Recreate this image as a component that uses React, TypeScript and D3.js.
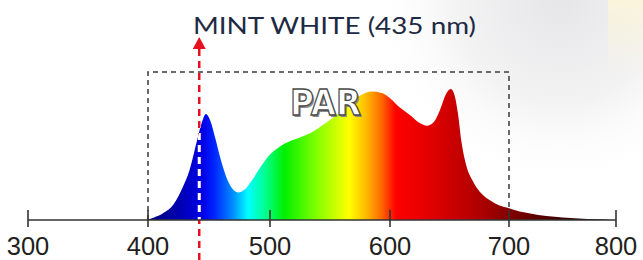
import React from "react";
import * as d3 from "d3";

const W = 643;
const H = 260;

// Axis ticks (nm)
const tickValues = [300, 400, 500, 600, 700, 800];
// pixel positions of the printed ticks (the source axis is not perfectly linear)
const tickPixels = [28, 148, 270, 390, 509, 616];

// Spectrum: wavelength (nm) and relative intensity
const wavelengths = [398, 405, 412, 421, 428, 434, 440, 444, 447.5, 451, 455, 460, 465, 470, 474, 479, 485, 492, 500, 508, 516, 525, 535, 545, 555, 565, 575, 585, 593, 600, 608, 617, 625, 631, 637, 642, 647, 651, 654, 657, 660, 664, 670, 677, 684, 692, 700, 710, 720, 735, 750, 765, 782, 796];
const intensity = [0, 0.02, 0.05, 0.12, 0.24, 0.38, 0.6, 0.74, 0.81, 0.76, 0.63, 0.45, 0.31, 0.23, 0.21, 0.23, 0.3, 0.4, 0.5, 0.56, 0.6, 0.63, 0.67, 0.73, 0.8, 0.88, 0.95, 0.98, 0.97, 0.93, 0.86, 0.8, 0.74, 0.72, 0.75, 0.84, 0.96, 1.0, 0.96, 0.82, 0.6, 0.42, 0.29, 0.2, 0.15, 0.11, 0.09, 0.065, 0.05, 0.03, 0.02, 0.012, 0.005, 0];

// Spectral colour stops
const colorNm = [400, 425, 445, 455, 470, 482, 495, 512, 540, 566, 580, 592, 605, 630, 655, 680, 700, 740, 780, 800];
const colorHex = ["#00007e", "#0000b0", "#0000e8", "#0028ff", "#0090ff", "#00ffff", "#00ff99", "#00f000", "#88ff00", "#ffff00", "#ffbb00", "#ff7000", "#ff0000", "#e60000", "#c80000", "#a80000", "#820000", "#4a0000", "#220000", "#100000"];

const parStart = 400;
const parEnd = 700;
const parTop = 1.13;
const markerNm = 442;

const title = "MINT WHITE (435 nm)";
const parLabel = "PAR";

export default function App() {
  const x = d3.scaleLinear().domain(tickValues).range(tickPixels);
  const y = d3.scaleLinear().domain([0, 1]).range([220, 89]);

  const pts = wavelengths.map((w, i) => [w, intensity[i]] as [number, number]);
  const area = d3
    .area<[number, number]>()
    .x((d) => x(d[0]))
    .y0(y(0))
    .y1((d) => y(d[1]))
    .curve(d3.curveMonotoneX);
  const areaPath = area(pts) || "";

  const x0 = x(tickValues[0]);
  const x1 = x(tickValues[tickValues.length - 1]);
  const gx0 = x(colorNm[0]);
  const gx1 = x(colorNm[colorNm.length - 1]);
  const mx = x(markerNm);

  return (
    <svg width={W} height={H} style={{ position: "absolute", left: 0, top: 0, background: "#fff" }}>
      <defs>
        <linearGradient id="spec" gradientUnits="userSpaceOnUse" x1={gx0} x2={gx1} y1={0} y2={0}>
          {colorNm.map((nm, i) => (
            <stop key={i} offset={(x(nm) - gx0) / (gx1 - gx0)} stopColor={colorHex[i]} />
          ))}
        </linearGradient>
        <radialGradient id="bg" cx={560} cy={0} r={190} gradientUnits="userSpaceOnUse">
          <stop offset="0" stopColor="#e6e6e8" />
          <stop offset="0.55" stopColor="#f3f3f4" />
          <stop offset="1" stopColor="#ffffff" stopOpacity="0" />
        </radialGradient>
        <linearGradient id="yel" x1="0" x2="0" y1="0" y2="1">
          <stop offset="0" stopColor="#faf4dc" />
          <stop offset="1" stopColor="#faf4dc" stopOpacity="0" />
        </linearGradient>
        <clipPath id="areaClip">
          <path d={areaPath} />
        </clipPath>
      </defs>

      {/* faint background picture */}
      <rect x={0} y={0} width={W} height={H} fill="#fff" />
      <rect x={0} y={0} width={W} height={H} fill="url(#bg)" />
      <rect x={608} y={0} width={35} height={75} fill="url(#yel)" />

      {/* PAR box */}
      <path
        d={`M${x(parStart)},${y(0)} V${y(parTop)} H${x(parEnd)} V${y(0)}`}
        fill="none"
        stroke="#3a3a3a"
        strokeWidth={1.5}
        strokeDasharray="5,4"
      />

      {/* spectrum */}
      <path d={areaPath} fill="url(#spec)" />

      {/* marker line */}
      <line x1={mx} x2={mx} y1={49} y2={H} stroke="#e8101e" strokeWidth={2.5} strokeDasharray="7,5" />
      <g clipPath="url(#areaClip)">
        <line x1={mx} x2={mx} y1={49} y2={H} stroke="#ffffff" strokeWidth={3} strokeDasharray="7,5" />
      </g>
      <path d={`M${mx},37 L${mx + 6.5},49 L${mx - 6.5},49 Z`} fill="#e8101e" />

      {/* axis */}
      <line x1={x0} x2={x1} y1={y(0)} y2={y(0)} stroke="#333" strokeWidth={1.6} />
      {tickValues.map((t) => (
        <g key={t}>
          <line x1={x(t)} x2={x(t)} y1={y(0) - 10} y2={y(0) + 7} stroke="#333" strokeWidth={1.6} />
          <text
            x={x(t)}
            y={254.5}
            textAnchor="middle"
            fontFamily="'Liberation Sans', Arial, sans-serif"
            fontSize={25.5}
            fill="#231f20"
          >
            {t}
          </text>
        </g>
      ))}

      {/* title */}
      <text
        x={193}
        y={34}
        fontFamily="Lato, 'Open Sans', sans-serif"
        fontSize={23.5}
        fill="#1e2a44"
        textLength={283}
        lengthAdjust="spacingAndGlyphs"
      >
        {title}
      </text>

      {/* PAR label */}
      <text
        x={291.5}
        y={116.5}
        fontFamily="'DejaVu Sans', sans-serif"
        fontWeight="bold"
        fontSize={35}
        fill="#8a8a8a"
        textLength={71}
        lengthAdjust="spacingAndGlyphs"
      >
        {parLabel}
      </text>
      <text
        x={290}
        y={115}
        fontFamily="'DejaVu Sans', sans-serif"
        fontWeight="bold"
        fontSize={35}
        fill="#ffffff"
        stroke="#4a4a4a"
        strokeWidth={1.3}
        textLength={71}
        lengthAdjust="spacingAndGlyphs"
      >
        {parLabel}
      </text>
    </svg>
  );
}
